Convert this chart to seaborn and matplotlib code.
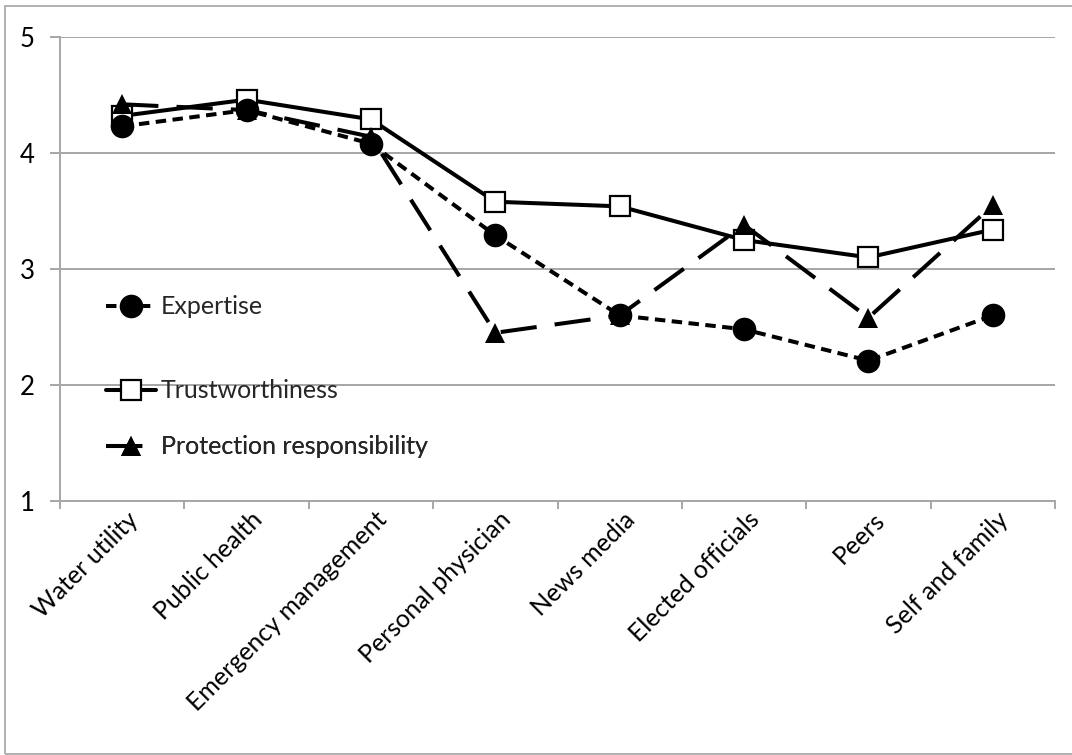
import matplotlib
matplotlib.use("Agg")
import matplotlib.pyplot as plt
import matplotlib.transforms as mtransforms
from matplotlib.patches import Rectangle
from matplotlib.ticker import FixedLocator, NullFormatter
import seaborn as sns
import numpy as np

# Source categories and mean ratings (1-5 scale)
categories = ["Water utility", "Public health", "Emergency management",
              "Personal physician", "News media", "Elected officials",
              "Peers", "Self and family"]
expertise = [4.23, 4.37, 4.08, 3.29, 2.60, 2.48, 2.21, 2.60]
trustworthiness = [4.32, 4.46, 4.29, 3.58, 3.54, 3.25, 3.10, 3.34]
protection = [4.42, 4.37, 4.14, 2.45, 2.60, 3.38, 2.58, 3.55]
y_ticks = [1, 2, 3, 4, 5]

sns.set_theme(style="white")
plt.rcParams["font.family"] = ["Lato", "DejaVu Sans"]

W, H = 1072, 755
fig = plt.figure(figsize=(W / 100, H / 100), dpi=100)
ax = fig.add_axes([60 / W, 1 - 501 / H, (1055 - 60) / W, (501 - 37) / H])

x = np.arange(len(categories))
lw = 2.9

sns.lineplot(x=x, y=trustworthiness, ax=ax, color="black", lw=lw,
             marker="s", markersize=15, markerfacecolor="white",
             markeredgecolor="black", markeredgewidth=1.6,
             label="Trustworthiness", zorder=3)
sns.lineplot(x=x, y=protection, ax=ax, color="black", lw=lw,
             linestyle=(0, (9, 4.5)), marker="^", markersize=15,
             markeredgewidth=0, label="Protection responsibility", zorder=4)
sns.lineplot(x=x, y=expertise, ax=ax, color="black", lw=lw,
             linestyle=(0, (2.6, 1.6)), marker="o", markersize=17,
             markeredgewidth=0, label="Expertise", zorder=5)

handles, labels = ax.get_legend_handles_labels()
hmap = dict(zip(labels, handles))
ax.get_legend().remove()

# Axis ranges and grid
ax.set_xlim(-0.5, len(categories) - 0.5)
ax.set_ylim(1, 5)
ax.set_yticks(y_ticks)
ax.set_yticklabels([str(t) for t in y_ticks])
ax.yaxis.grid(True, color="#a6a6a6", lw=1.4)
ax.set_axisbelow(True)
for side in ["top", "right"]:
    ax.spines[side].set_visible(False)
for side in ["left", "bottom"]:
    ax.spines[side].set_color("#a6a6a6")
    ax.spines[side].set_linewidth(1.4)

# Category labels at centres, tick marks on the boundaries between them
ax.set_xticks(x)
ax.set_xticklabels(categories)
ax.xaxis.set_minor_locator(FixedLocator(np.arange(len(categories) + 1) - 0.5))
ax.xaxis.set_minor_formatter(NullFormatter())
ax.tick_params(axis="x", which="major", length=0, pad=0, labelsize=18,
               labelcolor="black")
ax.tick_params(axis="x", which="minor", bottom=True, length=6, width=1.4,
               color="#a6a6a6", direction="out")
ax.tick_params(axis="y", left=True, length=7, width=1.4, color="#a6a6a6",
               pad=11, labelsize=18.5, labelcolor="black")
ax.set_xlabel("")
ax.set_ylabel("")

offset = mtransforms.ScaledTranslation(12 / 100, -15 / 100, fig.dpi_scale_trans)
for lab in ax.get_xticklabels():
    lab.set_rotation(45)
    lab.set_ha("right")
    lab.set_va("center")
    lab.set_rotation_mode("anchor")
    lab.set_transform(lab.get_transform() + offset)

# Legend entries stacked at the lower left of the plot
entries = [("Expertise", 307), ("Trustworthiness", 391),
           ("Protection responsibility", 447)]
for name, ypix in entries:
    leg = ax.legend([hmap[name]], [name], loc="center left",
                    bbox_to_anchor=(106 / W, 1 - ypix / H),
                    bbox_transform=fig.transFigure, frameon=False,
                    fontsize=18, handlelength=2.0, handletextpad=0.2,
                    borderpad=0, borderaxespad=0)
    ax.add_artist(leg)

# Thin frame around the whole chart
fig.add_artist(Rectangle((5 / W, 1 / H), 1.0, 1 - 7 / H,
                         transform=fig.transFigure, fill=False,
                         edgecolor="#b0b0b0", lw=1.4))

fig.savefig("out.png", dpi=100)
